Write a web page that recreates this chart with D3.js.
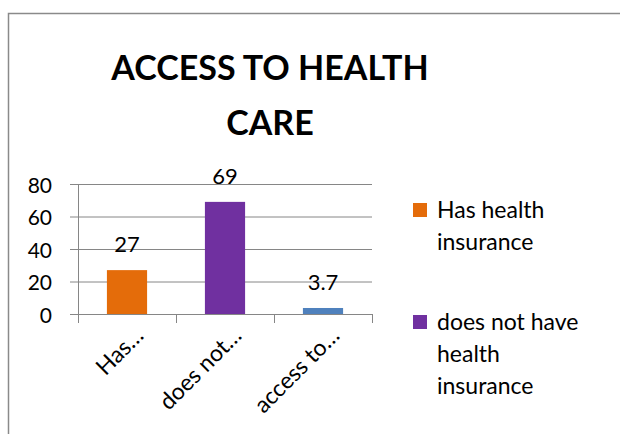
<!doctype html>
<html lang="en">
<head>
<meta charset="UTF-8" />
<title>Access to health care</title>
<script src="https://d3js.org/d3.v7.min.js"></script>
<style>
  body { margin: 0; background: #fff; }
  svg { display: block; font-family: Lato, "Open Sans", sans-serif; }
</style>
</head>
<body>
<svg id="chart" width="620" height="434"></svg>
<script>
const categories = ["Has…", "does not…", "access to…"];
const values = [27, 69, 3.7];
const valueLabels = ["27", "69", "3.7"];
const colors = ["#E46C0A", "#7030A0", "#4F81BD"];
const yTicks = [0, 20, 40, 60, 80];
const legendItems = [
  { color: "#E46C0A", lines: ["Has health", "insurance"] },
  { color: "#7030A0", lines: ["does not have", "health", "insurance"] }
];

const svg = d3.select("#chart");

// chart frame
svg.append("rect")
  .attr("x", 8.5).attr("y", 13.5)
  .attr("width", 640).attr("height", 460)
  .attr("fill", "none").attr("stroke", "#8a8a8a").attr("stroke-width", 1.5);

// title
svg.append("text")
  .attr("x", 270).attr("y", 80)
  .attr("text-anchor", "middle")
  .attr("font-size", 34).attr("font-weight", "bold")
  .text("ACCESS TO HEALTH");
svg.append("text")
  .attr("x", 270).attr("y", 135)
  .attr("text-anchor", "middle")
  .attr("font-size", 34).attr("font-weight", "bold")
  .text("CARE");

const plot = { left: 78, right: 372, top: 184, bottom: 314 };

const x = d3.scaleBand()
  .domain(categories)
  .range([plot.left, plot.right])
  .paddingInner(0.59).paddingOuter(0.295);

const y = d3.scaleLinear()
  .domain([0, 80])
  .range([plot.bottom, plot.top]);

// gridlines
svg.append("g")
  .selectAll("line")
  .data(yTicks)
  .join("line")
  .attr("x1", plot.left - 8).attr("x2", plot.right)
  .attr("y1", d => y(d) + 0.5).attr("y2", d => y(d) + 0.5)
  .attr("stroke", "#868686").attr("stroke-width", 1);

// y axis line
svg.append("line")
  .attr("x1", plot.left + 0.5).attr("x2", plot.left + 0.5)
  .attr("y1", plot.top).attr("y2", plot.bottom + 9)
  .attr("stroke", "#868686");

// y tick labels
svg.append("g")
  .selectAll("text")
  .data(yTicks)
  .join("text")
  .attr("x", 52).attr("y", d => y(d))
  .attr("text-anchor", "end")
  .attr("dominant-baseline", "central")
  .attr("font-size", 21)
  .text(d => d);

// category tick marks below axis
const step = x.step();
const boundaries = d3.range(categories.length + 1).map(i => plot.left + i * step);
svg.append("g")
  .selectAll("line")
  .data(boundaries)
  .join("line")
  .attr("x1", d => Math.round(d) + 0.5).attr("x2", d => Math.round(d) + 0.5)
  .attr("y1", plot.bottom).attr("y2", plot.bottom + 9)
  .attr("stroke", "#868686");

// bars
svg.append("g")
  .selectAll("rect")
  .data(values)
  .join("rect")
  .attr("x", (d, i) => x(categories[i]))
  .attr("y", d => y(d))
  .attr("width", x.bandwidth())
  .attr("height", d => y(0) - y(d))
  .attr("fill", (d, i) => colors[i]);

// value labels
svg.append("g")
  .selectAll("text")
  .data(values)
  .join("text")
  .attr("x", (d, i) => x(categories[i]) + x.bandwidth() / 2)
  .attr("y", d => y(d) - 18)
  .attr("text-anchor", "middle")
  .attr("font-size", 22)
  .text((d, i) => valueLabels[i]);

// x labels, rotated
svg.append("g")
  .selectAll("text")
  .data(categories)
  .join("text")
  .attr("transform", d => `translate(${x(d) + x.bandwidth() / 2 + 18},${plot.bottom + 23}) rotate(-45)`)
  .attr("text-anchor", "end")
  .attr("font-size", 23)
  .text(d => d);

// legend
const legend = svg.append("g");
const legendTop = [203, 315];
legendItems.forEach((item, i) => {
  const g = legend.append("g").attr("transform", `translate(413,${legendTop[i]})`);
  g.append("rect").attr("width", 14).attr("height", 14).attr("fill", item.color);
  g.selectAll("text")
    .data(item.lines)
    .join("text")
    .attr("x", 24)
    .attr("y", (d, j) => 15 + j * 32)
    .attr("font-size", 23)
    .text(d => d);
});
</script>
</body>
</html>
